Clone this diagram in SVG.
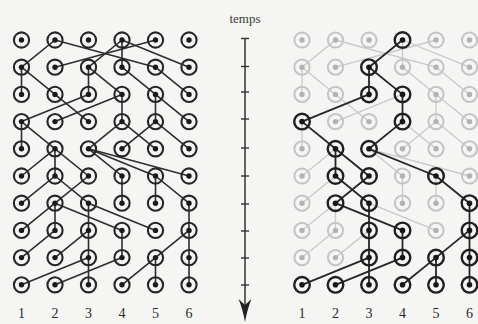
<svg xmlns="http://www.w3.org/2000/svg" xmlns:xlink="http://www.w3.org/1999/xlink" width="478" height="324" viewBox="0 0 478 324">
<style>
.e{stroke:#2e2e2e;stroke-width:1.6;fill:none;stroke-linecap:round}
.eg{stroke:#c9c9c9;stroke-width:1.3;fill:none;stroke-linecap:round}
.eh{stroke:#262626;stroke-width:1.8;fill:none;stroke-linecap:round}
.lbl{font-family:"Liberation Serif","DejaVu Serif",serif;font-size:14px;fill:#2a2a2a;text-anchor:middle}
.tm{font-family:"Liberation Serif","DejaVu Serif",serif;font-size:13px;fill:#3a3a3a;text-anchor:middle}
</style>
<defs>
<g id="nd"><circle r="7.6" fill="none" stroke="#262626" stroke-width="2.1"/><circle r="2.7" fill="#1a1a1a"/></g>
<g id="ng"><circle r="7.6" fill="none" stroke="#c4c4c4" stroke-width="2"/><circle r="2.7" fill="#b2b2b2"/></g>
<g id="nh"><circle r="7.8" fill="none" stroke="#202020" stroke-width="2.4"/><circle r="2.8" fill="#161616"/></g>
</defs>
<rect width="478" height="324" fill="#f5f5f3"/>

<g id="connectors-left" class="e">
<line x1="55" y1="40" x2="21.5" y2="67.2"/>
<line x1="155.5" y1="40" x2="55" y2="67.2"/>
<line x1="122" y1="40" x2="88.5" y2="67.2"/>
<line x1="122" y1="40" x2="122" y2="67.2"/>
<line x1="55" y1="40" x2="155.5" y2="67.2"/>
<line x1="122" y1="40" x2="189" y2="67.2"/>
<line x1="21.5" y1="67.2" x2="21.5" y2="94.4"/>
<line x1="21.5" y1="67.2" x2="55" y2="94.4"/>
<line x1="88.5" y1="67.2" x2="88.5" y2="94.4"/>
<line x1="88.5" y1="67.2" x2="122" y2="94.4"/>
<line x1="122" y1="67.2" x2="155.5" y2="94.4"/>
<line x1="155.5" y1="67.2" x2="189" y2="94.4"/>
<line x1="88.5" y1="94.4" x2="21.5" y2="121.6"/>
<line x1="122" y1="94.4" x2="55" y2="121.6"/>
<line x1="55" y1="94.4" x2="88.5" y2="121.6"/>
<line x1="122" y1="94.4" x2="122" y2="121.6"/>
<line x1="155.5" y1="94.4" x2="155.5" y2="121.6"/>
<line x1="155.5" y1="94.4" x2="189" y2="121.6"/>
<line x1="21.5" y1="121.6" x2="21.5" y2="148.8"/>
<line x1="21.5" y1="121.6" x2="55" y2="148.8"/>
<line x1="122" y1="121.6" x2="88.5" y2="148.8"/>
<line x1="155.5" y1="121.6" x2="122" y2="148.8"/>
<line x1="122" y1="121.6" x2="155.5" y2="148.8"/>
<line x1="155.5" y1="121.6" x2="189" y2="148.8"/>
<line x1="55" y1="148.8" x2="21.5" y2="176"/>
<line x1="55" y1="148.8" x2="55" y2="176"/>
<line x1="55" y1="148.8" x2="88.5" y2="176"/>
<line x1="88.5" y1="148.8" x2="122" y2="176"/>
<line x1="88.5" y1="148.8" x2="155.5" y2="176"/>
<line x1="88.5" y1="148.8" x2="189" y2="176"/>
<line x1="55" y1="176" x2="21.5" y2="203.2"/>
<line x1="88.5" y1="176" x2="55" y2="203.2"/>
<line x1="55" y1="176" x2="88.5" y2="203.2"/>
<line x1="122" y1="176" x2="122" y2="203.2"/>
<line x1="155.5" y1="176" x2="155.5" y2="203.2"/>
<line x1="155.5" y1="176" x2="189" y2="203.2"/>
<line x1="55" y1="203.2" x2="21.5" y2="230.4"/>
<line x1="55" y1="203.2" x2="55" y2="230.4"/>
<line x1="88.5" y1="203.2" x2="88.5" y2="230.4"/>
<line x1="55" y1="203.2" x2="122" y2="230.4"/>
<line x1="88.5" y1="203.2" x2="155.5" y2="230.4"/>
<line x1="189" y1="203.2" x2="189" y2="230.4"/>
<line x1="55" y1="230.4" x2="21.5" y2="257.6"/>
<line x1="88.5" y1="230.4" x2="55" y2="257.6"/>
<line x1="88.5" y1="230.4" x2="88.5" y2="257.6"/>
<line x1="122" y1="230.4" x2="122" y2="257.6"/>
<line x1="189" y1="230.4" x2="155.5" y2="257.6"/>
<line x1="189" y1="230.4" x2="189" y2="257.6"/>
<line x1="88.5" y1="257.6" x2="21.5" y2="284.8"/>
<line x1="122" y1="257.6" x2="55" y2="284.8"/>
<line x1="88.5" y1="257.6" x2="88.5" y2="284.8"/>
<line x1="155.5" y1="257.6" x2="122" y2="284.8"/>
<line x1="155.5" y1="257.6" x2="155.5" y2="284.8"/>
<line x1="189" y1="257.6" x2="189" y2="284.8"/>
</g>

<g id="nodes-left">
<g id="L1-1"><use href="#nd" x="21.5" y="40"/></g><g id="L2-1"><use href="#nd" x="55" y="40"/></g><g id="L3-1"><use href="#nd" x="88.5" y="40"/></g><g id="L4-1"><use href="#nd" x="122" y="40"/></g><g id="L5-1"><use href="#nd" x="155.5" y="40"/></g><g id="L6-1"><use href="#nd" x="189" y="40"/></g>
<g id="L1-2"><use href="#nd" x="21.5" y="67.2"/></g><g id="L2-2"><use href="#nd" x="55" y="67.2"/></g><g id="L3-2"><use href="#nd" x="88.5" y="67.2"/></g><g id="L4-2"><use href="#nd" x="122" y="67.2"/></g><g id="L5-2"><use href="#nd" x="155.5" y="67.2"/></g><g id="L6-2"><use href="#nd" x="189" y="67.2"/></g>
<g id="L1-3"><use href="#nd" x="21.5" y="94.4"/></g><g id="L2-3"><use href="#nd" x="55" y="94.4"/></g><g id="L3-3"><use href="#nd" x="88.5" y="94.4"/></g><g id="L4-3"><use href="#nd" x="122" y="94.4"/></g><g id="L5-3"><use href="#nd" x="155.5" y="94.4"/></g><g id="L6-3"><use href="#nd" x="189" y="94.4"/></g>
<g id="L1-4"><use href="#nd" x="21.5" y="121.6"/></g><g id="L2-4"><use href="#nd" x="55" y="121.6"/></g><g id="L3-4"><use href="#nd" x="88.5" y="121.6"/></g><g id="L4-4"><use href="#nd" x="122" y="121.6"/></g><g id="L5-4"><use href="#nd" x="155.5" y="121.6"/></g><g id="L6-4"><use href="#nd" x="189" y="121.6"/></g>
<g id="L1-5"><use href="#nd" x="21.5" y="148.8"/></g><g id="L2-5"><use href="#nd" x="55" y="148.8"/></g><g id="L3-5"><use href="#nd" x="88.5" y="148.8"/></g><g id="L4-5"><use href="#nd" x="122" y="148.8"/></g><g id="L5-5"><use href="#nd" x="155.5" y="148.8"/></g><g id="L6-5"><use href="#nd" x="189" y="148.8"/></g>
<g id="L1-6"><use href="#nd" x="21.5" y="176"/></g><g id="L2-6"><use href="#nd" x="55" y="176"/></g><g id="L3-6"><use href="#nd" x="88.5" y="176"/></g><g id="L4-6"><use href="#nd" x="122" y="176"/></g><g id="L5-6"><use href="#nd" x="155.5" y="176"/></g><g id="L6-6"><use href="#nd" x="189" y="176"/></g>
<g id="L1-7"><use href="#nd" x="21.5" y="203.2"/></g><g id="L2-7"><use href="#nd" x="55" y="203.2"/></g><g id="L3-7"><use href="#nd" x="88.5" y="203.2"/></g><g id="L4-7"><use href="#nd" x="122" y="203.2"/></g><g id="L5-7"><use href="#nd" x="155.5" y="203.2"/></g><g id="L6-7"><use href="#nd" x="189" y="203.2"/></g>
<g id="L1-8"><use href="#nd" x="21.5" y="230.4"/></g><g id="L2-8"><use href="#nd" x="55" y="230.4"/></g><g id="L3-8"><use href="#nd" x="88.5" y="230.4"/></g><g id="L4-8"><use href="#nd" x="122" y="230.4"/></g><g id="L5-8"><use href="#nd" x="155.5" y="230.4"/></g><g id="L6-8"><use href="#nd" x="189" y="230.4"/></g>
<g id="L1-9"><use href="#nd" x="21.5" y="257.6"/></g><g id="L2-9"><use href="#nd" x="55" y="257.6"/></g><g id="L3-9"><use href="#nd" x="88.5" y="257.6"/></g><g id="L4-9"><use href="#nd" x="122" y="257.6"/></g><g id="L5-9"><use href="#nd" x="155.5" y="257.6"/></g><g id="L6-9"><use href="#nd" x="189" y="257.6"/></g>
<g id="L1-10"><use href="#nd" x="21.5" y="284.8"/></g><g id="L2-10"><use href="#nd" x="55" y="284.8"/></g><g id="L3-10"><use href="#nd" x="88.5" y="284.8"/></g><g id="L4-10"><use href="#nd" x="122" y="284.8"/></g><g id="L5-10"><use href="#nd" x="155.5" y="284.8"/></g><g id="L6-10"><use href="#nd" x="189" y="284.8"/></g>
</g>

<g id="connectors-right-all" class="eg">
<line x1="335.5" y1="40" x2="302" y2="67.2"/>
<line x1="436" y1="40" x2="335.5" y2="67.2"/>
<line x1="402.5" y1="40" x2="402.5" y2="67.2"/>
<line x1="335.5" y1="40" x2="436" y2="67.2"/>
<line x1="402.5" y1="40" x2="469.5" y2="67.2"/>
<line x1="302" y1="67.2" x2="302" y2="94.4"/>
<line x1="302" y1="67.2" x2="335.5" y2="94.4"/>
<line x1="402.5" y1="67.2" x2="436" y2="94.4"/>
<line x1="436" y1="67.2" x2="469.5" y2="94.4"/>
<line x1="402.5" y1="94.4" x2="335.5" y2="121.6"/>
<line x1="335.5" y1="94.4" x2="369" y2="121.6"/>
<line x1="436" y1="94.4" x2="436" y2="121.6"/>
<line x1="436" y1="94.4" x2="469.5" y2="121.6"/>
<line x1="302" y1="121.6" x2="302" y2="148.8"/>
<line x1="436" y1="121.6" x2="402.5" y2="148.8"/>
<line x1="402.5" y1="121.6" x2="436" y2="148.8"/>
<line x1="436" y1="121.6" x2="469.5" y2="148.8"/>
<line x1="335.5" y1="148.8" x2="302" y2="176"/>
<line x1="369" y1="148.8" x2="402.5" y2="176"/>
<line x1="369" y1="148.8" x2="469.5" y2="176"/>
<line x1="335.5" y1="176" x2="302" y2="203.2"/>
<line x1="402.5" y1="176" x2="402.5" y2="203.2"/>
<line x1="436" y1="176" x2="436" y2="203.2"/>
<line x1="335.5" y1="203.2" x2="302" y2="230.4"/>
<line x1="335.5" y1="203.2" x2="335.5" y2="230.4"/>
<line x1="369" y1="203.2" x2="436" y2="230.4"/>
<line x1="335.5" y1="230.4" x2="302" y2="257.6"/>
<line x1="369" y1="230.4" x2="335.5" y2="257.6"/>
</g>

<g id="nodes-right-faded">
<g id="R1-1"><use href="#ng" x="302" y="40"/></g><g id="R2-1"><use href="#ng" x="335.5" y="40"/></g><g id="R3-1"><use href="#ng" x="369" y="40"/></g><g id="R5-1"><use href="#ng" x="436" y="40"/></g><g id="R6-1"><use href="#ng" x="469.5" y="40"/></g>
<g id="R1-2"><use href="#ng" x="302" y="67.2"/></g><g id="R2-2"><use href="#ng" x="335.5" y="67.2"/></g><g id="R4-2"><use href="#ng" x="402.5" y="67.2"/></g><g id="R5-2"><use href="#ng" x="436" y="67.2"/></g><g id="R6-2"><use href="#ng" x="469.5" y="67.2"/></g>
<g id="R1-3"><use href="#ng" x="302" y="94.4"/></g><g id="R2-3"><use href="#ng" x="335.5" y="94.4"/></g><g id="R5-3"><use href="#ng" x="436" y="94.4"/></g><g id="R6-3"><use href="#ng" x="469.5" y="94.4"/></g>
<g id="R2-4"><use href="#ng" x="335.5" y="121.6"/></g><g id="R3-4"><use href="#ng" x="369" y="121.6"/></g><g id="R5-4"><use href="#ng" x="436" y="121.6"/></g><g id="R6-4"><use href="#ng" x="469.5" y="121.6"/></g>
<g id="R1-5"><use href="#ng" x="302" y="148.8"/></g><g id="R4-5"><use href="#ng" x="402.5" y="148.8"/></g><g id="R5-5"><use href="#ng" x="436" y="148.8"/></g><g id="R6-5"><use href="#ng" x="469.5" y="148.8"/></g>
<g id="R1-6"><use href="#ng" x="302" y="176"/></g><g id="R4-6"><use href="#ng" x="402.5" y="176"/></g><g id="R6-6"><use href="#ng" x="469.5" y="176"/></g>
<g id="R1-7"><use href="#ng" x="302" y="203.2"/></g><g id="R4-7"><use href="#ng" x="402.5" y="203.2"/></g><g id="R5-7"><use href="#ng" x="436" y="203.2"/></g>
<g id="R1-8"><use href="#ng" x="302" y="230.4"/></g><g id="R2-8"><use href="#ng" x="335.5" y="230.4"/></g><g id="R5-8"><use href="#ng" x="436" y="230.4"/></g>
<g id="R1-9"><use href="#ng" x="302" y="257.6"/></g><g id="R2-9"><use href="#ng" x="335.5" y="257.6"/></g>
</g>

<g id="connectors-right-lineage" class="eh">
<line x1="402.5" y1="40" x2="369" y2="67.2"/>
<line x1="369" y1="67.2" x2="369" y2="94.4"/>
<line x1="369" y1="67.2" x2="402.5" y2="94.4"/>
<line x1="369" y1="94.4" x2="302" y2="121.6"/>
<line x1="402.5" y1="94.4" x2="402.5" y2="121.6"/>
<line x1="302" y1="121.6" x2="335.5" y2="148.8"/>
<line x1="402.5" y1="121.6" x2="369" y2="148.8"/>
<line x1="335.5" y1="148.8" x2="335.5" y2="176"/>
<line x1="335.5" y1="148.8" x2="369" y2="176"/>
<line x1="369" y1="148.8" x2="436" y2="176"/>
<line x1="335.5" y1="176" x2="369" y2="203.2"/>
<line x1="369" y1="176" x2="335.5" y2="203.2"/>
<line x1="436" y1="176" x2="469.5" y2="203.2"/>
<line x1="335.5" y1="203.2" x2="402.5" y2="230.4"/>
<line x1="369" y1="203.2" x2="369" y2="230.4"/>
<line x1="469.5" y1="203.2" x2="469.5" y2="230.4"/>
<line x1="369" y1="230.4" x2="369" y2="257.6"/>
<line x1="402.5" y1="230.4" x2="402.5" y2="257.6"/>
<line x1="469.5" y1="230.4" x2="436" y2="257.6"/>
<line x1="469.5" y1="230.4" x2="469.5" y2="257.6"/>
<line x1="369" y1="257.6" x2="302" y2="284.8"/>
<line x1="402.5" y1="257.6" x2="335.5" y2="284.8"/>
<line x1="369" y1="257.6" x2="369" y2="284.8"/>
<line x1="436" y1="257.6" x2="402.5" y2="284.8"/>
<line x1="436" y1="257.6" x2="436" y2="284.8"/>
<line x1="469.5" y1="257.6" x2="469.5" y2="284.8"/>
</g>

<g id="nodes-right-lineage">
<g id="R4-1"><use href="#nh" x="402.5" y="40"/></g>
<g id="R3-2"><use href="#nh" x="369" y="67.2"/></g>
<g id="R3-3"><use href="#nh" x="369" y="94.4"/></g><g id="R4-3"><use href="#nh" x="402.5" y="94.4"/></g>
<g id="R1-4"><use href="#nh" x="302" y="121.6"/></g><g id="R4-4"><use href="#nh" x="402.5" y="121.6"/></g>
<g id="R2-5"><use href="#nh" x="335.5" y="148.8"/></g><g id="R3-5"><use href="#nh" x="369" y="148.8"/></g>
<g id="R2-6"><use href="#nh" x="335.5" y="176"/></g><g id="R3-6"><use href="#nh" x="369" y="176"/></g><g id="R5-6"><use href="#nh" x="436" y="176"/></g>
<g id="R2-7"><use href="#nh" x="335.5" y="203.2"/></g><g id="R3-7"><use href="#nh" x="369" y="203.2"/></g><g id="R6-7"><use href="#nh" x="469.5" y="203.2"/></g>
<g id="R3-8"><use href="#nh" x="369" y="230.4"/></g><g id="R4-8"><use href="#nh" x="402.5" y="230.4"/></g><g id="R6-8"><use href="#nh" x="469.5" y="230.4"/></g>
<g id="R3-9"><use href="#nh" x="369" y="257.6"/></g><g id="R4-9"><use href="#nh" x="402.5" y="257.6"/></g><g id="R5-9"><use href="#nh" x="436" y="257.6"/></g><g id="R6-9"><use href="#nh" x="469.5" y="257.6"/></g>
<g id="R1-10"><use href="#nh" x="302" y="284.8"/></g><g id="R2-10"><use href="#nh" x="335.5" y="284.8"/></g><g id="R3-10"><use href="#nh" x="369" y="284.8"/></g><g id="R4-10"><use href="#nh" x="402.5" y="284.8"/></g><g id="R5-10"><use href="#nh" x="436" y="284.8"/></g><g id="R6-10"><use href="#nh" x="469.5" y="284.8"/></g>
</g>

<g id="time-axis">
<text class="tm" x="245" y="23">temps</text>
<line x1="245" y1="38" x2="245" y2="312" stroke="#333" stroke-width="1.5"/>
<g stroke="#333" stroke-width="1.4">
<line x1="241" y1="38.5" x2="249" y2="38.5"/>
<line x1="241" y1="66.5" x2="249" y2="66.5"/>
<line x1="241" y1="92" x2="249" y2="92"/>
<line x1="241" y1="119" x2="249" y2="119"/>
<line x1="241" y1="148" x2="249" y2="148"/>
<line x1="241" y1="176" x2="249" y2="176"/>
<line x1="241" y1="204" x2="249" y2="204"/>
<line x1="241" y1="231" x2="249" y2="231"/>
<line x1="241" y1="258" x2="249" y2="258"/>
<line x1="241" y1="285" x2="249" y2="285"/>
</g>
<path d="M245,322 C243.5,313 241,305 238.5,299 L245,305 L251.5,299 C249,305 246.5,313 245,322 Z" fill="#222"/>
</g>

<g id="labels-left">
<text class="lbl" x="21.5" y="318">1</text><text class="lbl" x="55" y="318">2</text><text class="lbl" x="88.5" y="318">3</text><text class="lbl" x="122" y="318">4</text><text class="lbl" x="155.5" y="318">5</text><text class="lbl" x="189" y="318">6</text>
</g>
<g id="labels-right">
<text class="lbl" x="302" y="318">1</text><text class="lbl" x="335.5" y="318">2</text><text class="lbl" x="369" y="318">3</text><text class="lbl" x="402.5" y="318">4</text><text class="lbl" x="436" y="318">5</text><text class="lbl" x="469.5" y="318">6</text>
</g>
</svg>
